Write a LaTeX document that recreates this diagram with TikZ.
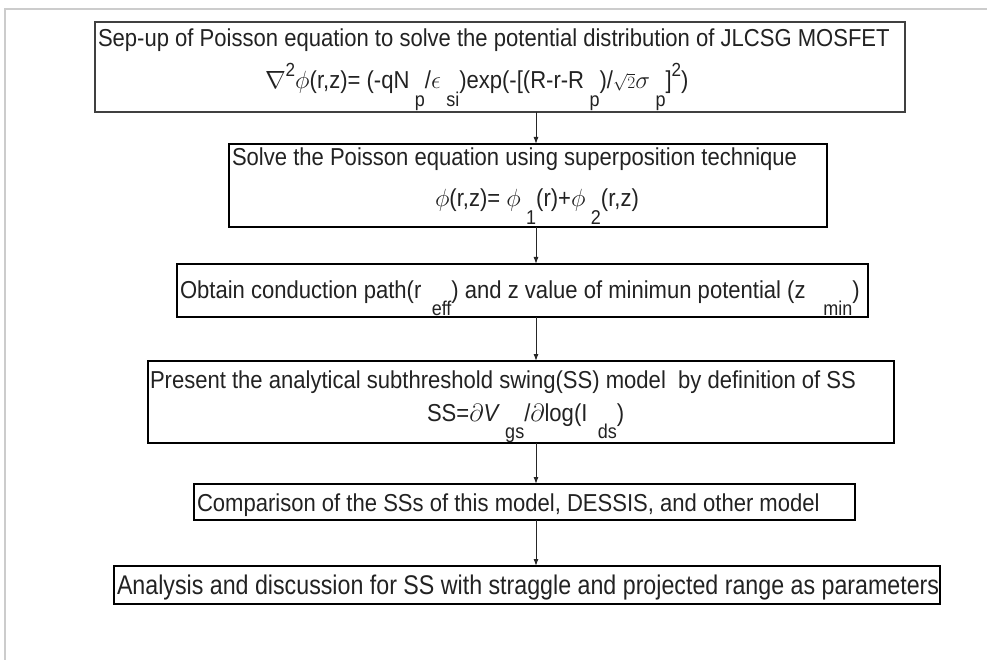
\documentclass[tikz,border=0pt]{standalone}
\usepackage{fontspec}
\setmainfont[FakeStretch=0.9]{Liberation Sans}
\newfontfamily\narrowfont[FakeStretch=0.86]{Liberation Sans}
\usetikzlibrary{arrows.meta}
\newcommand{\lowsub}[1]{\hspace{0.22em}\raisebox{-0.72em}{\fontsize{20}{22}\selectfont #1}}
\newcommand{\hisup}[1]{\raisebox{0.5em}{\fontsize{19}{21}\selectfont #1}}
\definecolor{txt}{HTML}{222222}
\begin{document}
\begin{tikzpicture}[x=1pt,y=-1pt,
  boxst/.style={draw=black, line width=1.1pt, inner sep=0pt, outer sep=0pt, rectangle},
  txtst/.style={inner sep=0pt, outer sep=0pt, anchor=base west, text=txt, font=\fontsize{24.5}{28}\selectfont},
  arr/.style={draw=black!85, line width=1pt, -{Latex[length=7pt,width=5pt]}},
  framest/.style={draw=black!20, line width=1.2pt}]
\useasboundingbox (0,0) rectangle (987,660);
% light frame
\coordinate (fTR) at (987,9);
\coordinate (fTL) at (5,9);
\coordinate (fBL) at (5,660);
\draw[framest] (fTR) -- (fTL) -- (fBL);
% boxes
\node[boxst, draw=black!75, line width=1.6pt, minimum width=810pt, minimum height=90pt] (b1) at (500,67) {};
\node[boxst, minimum width=598pt, minimum height=83pt] (b2) at (528,185.5) {};
\node[boxst, minimum width=691pt, minimum height=53pt] (b3) at (522.5,290.5) {};
\node[boxst, minimum width=746pt, minimum height=82pt] (b4) at (521,402) {};
\node[boxst, minimum width=661pt, minimum height=36pt] (b5) at (524.5,502) {};
\node[boxst, minimum width=826pt, minimum height=38pt] (b6) at (527,585) {};
% texts
\node[txtst] (t1a) at (98,47) {Sep-up of Poisson equation to solve the potential distribution of JLCSG MOSFET};
\node[txtst] (t1b) at (265,89) {$\nabla$\hisup{2}$\phi$(r,z)= (-qN\lowsub{p}/$\epsilon$\lowsub{si})exp(-[(R-r-R\lowsub{p})/{\fontsize{19}{21}\selectfont$\sqrt{2}$}$\sigma$\lowsub{p}]\hisup{2})};
\node[txtst] (t2a) at (232,166) {Solve the Poisson equation using superposition technique};
\node[txtst] (t2b) at (435,207) {$\phi$(r,z)= $\phi$\lowsub{1}(r)+$\phi$\lowsub{2}(r,z)};
\node[txtst] (t3) at (180,298) {Obtain conduction path(r\hspace{0.2em}\lowsub{eff}) and z value of minimun potential (z\hspace{0.5em}\lowsub{min})};
\node[txtst] (t4a) at (150,388) {Present the analytical subthreshold swing(SS) model\ \ by definition of SS};
\node[txtst] (t4b) at (427,421) {SS=$\partial\mathit{V}$\lowsub{gs}/$\partial$log(I\hspace{0.2em}\lowsub{ds})};
\node[txtst] (t5) at (197,511) {Comparison of the SSs of this model, DESSIS, and other model};
\node[txtst, font=\narrowfont\fontsize{27}{30}\selectfont] (t6) at (117,594) {Analysis and discussion for SS with straggle and projected range as parameters};
% arrows
\coordinate (ax) at (536,0);
\draw[arr] (b1.south -| ax) -- (b2.north -| ax);
\draw[arr] (b2.south -| ax) -- (b3.north -| ax);
\draw[arr] (b3.south -| ax) -- (b4.north -| ax);
\draw[arr] (b4.south -| ax) -- (b5.north -| ax);
\draw[arr] (b5.south -| ax) -- (b6.north -| ax);
\end{tikzpicture}
\end{document}
